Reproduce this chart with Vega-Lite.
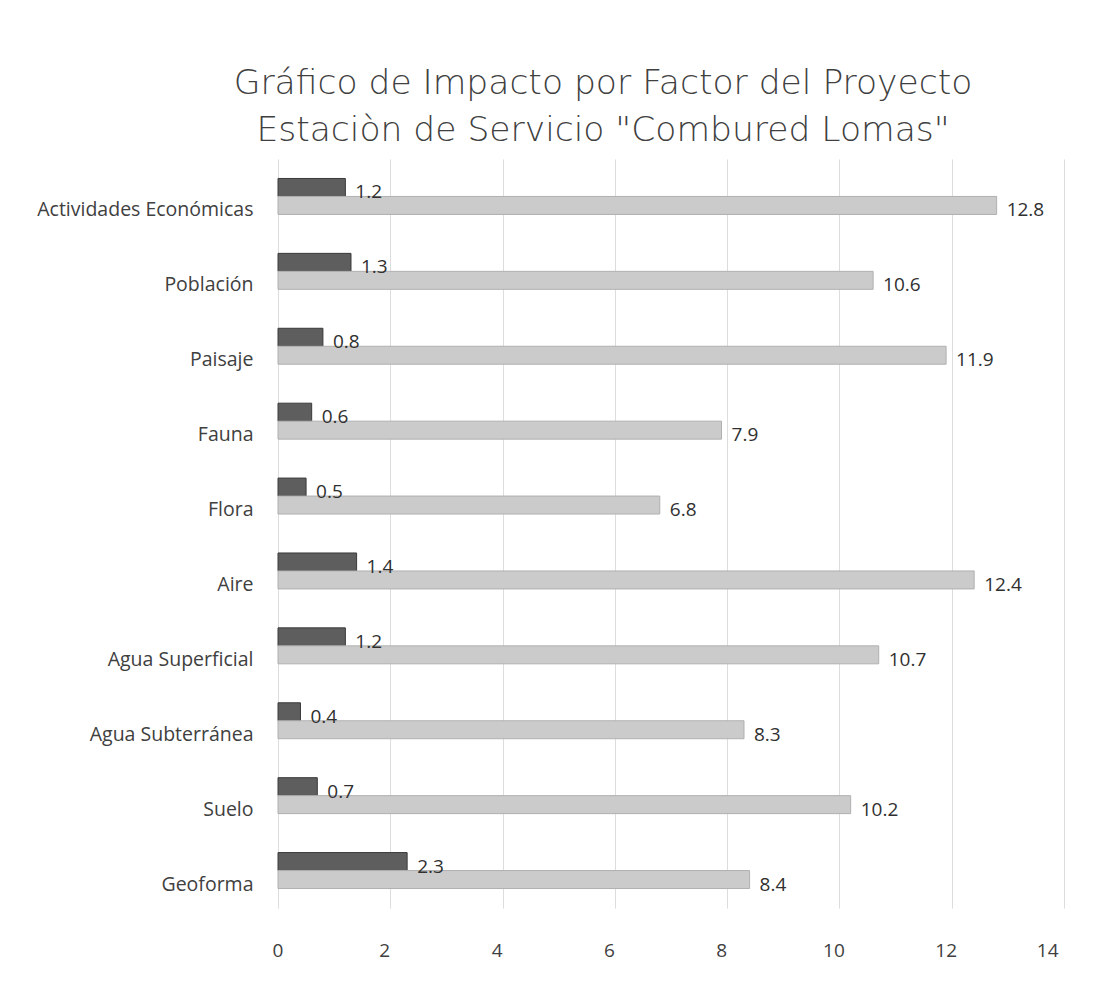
{
  "$schema": "https://vega.github.io/schema/vega-lite/v6.json",
  "autosize": "none",
  "width": 786,
  "height": 749,
  "padding": {"left": 278, "top": 159, "right": 49, "bottom": 82},
  "background": "white",
  "title": {
    "text": ["Gráfico de Impacto por Factor del Proyecto", "Estaciòn de Servicio \"Combured Lomas\""],
    "anchor": "middle",
    "frame": "group",
    "dx": -68,
    "offset": 11,
    "font": "DejaVu Sans",
    "fontSize": 34.5,
    "fontWeight": 200,
    "color": "#404040",
    "lineHeight": 47
  },
  "data": {
    "values": [
      {"factor": "Actividades Económicas", "serie": "A", "valor": 1.2},
      {"factor": "Actividades Económicas", "serie": "B", "valor": 12.8},
      {"factor": "Población", "serie": "A", "valor": 1.3},
      {"factor": "Población", "serie": "B", "valor": 10.6},
      {"factor": "Paisaje", "serie": "A", "valor": 0.8},
      {"factor": "Paisaje", "serie": "B", "valor": 11.9},
      {"factor": "Fauna", "serie": "A", "valor": 0.6},
      {"factor": "Fauna", "serie": "B", "valor": 7.9},
      {"factor": "Flora", "serie": "A", "valor": 0.5},
      {"factor": "Flora", "serie": "B", "valor": 6.8},
      {"factor": "Aire", "serie": "A", "valor": 1.4},
      {"factor": "Aire", "serie": "B", "valor": 12.4},
      {"factor": "Agua Superficial", "serie": "A", "valor": 1.2},
      {"factor": "Agua Superficial", "serie": "B", "valor": 10.7},
      {"factor": "Agua Subterránea", "serie": "A", "valor": 0.4},
      {"factor": "Agua Subterránea", "serie": "B", "valor": 8.3},
      {"factor": "Suelo", "serie": "A", "valor": 0.7},
      {"factor": "Suelo", "serie": "B", "valor": 10.2},
      {"factor": "Geoforma", "serie": "A", "valor": 2.3},
      {"factor": "Geoforma", "serie": "B", "valor": 8.4}
    ]
  },
  "encoding": {
    "y": {
      "field": "factor",
      "type": "nominal",
      "sort": null,
      "title": null,
      "scale": {"paddingInner": 0.52, "paddingOuter": 0.26},
      "axis": {
        "domain": false,
        "ticks": false,
        "grid": false,
        "labelFont": "Open Sans",
        "labelFontSize": 19.5,
        "labelColor": "#404040",
        "labelPadding": 25,
        "labelOffset": 14,
        "labelLimit": 300
      }
    },
    "yOffset": {"field": "serie", "type": "nominal", "sort": ["A", "B"], "scale": {"paddingInner": 0}},
    "x": {
      "field": "valor",
      "type": "quantitative",
      "title": null,
      "scale": {"domain": [0, 14], "nice": false},
      "axis": {
        "values": [0, 2, 4, 6, 8, 10, 12, 14],
        "domain": false,
        "ticks": false,
        "grid": true,
        "gridColor": "#dddddd",
        "gridWidth": 1,
        "labelFont": "Open Sans",
        "labelFontSize": 19,
        "labelColor": "#404040",
        "labelPadding": 33,
        "labelOffset": -6
      }
    }
  },
  "layer": [
    {
      "mark": {"type": "bar", "strokeWidth": 1},
      "encoding": {
        "color": {
          "field": "serie",
          "type": "nominal",
          "scale": {"domain": ["A", "B"], "range": ["#5e5e5e", "#cbcbcb"]},
          "legend": null
        },
        "stroke": {
          "field": "serie",
          "type": "nominal",
          "scale": {"domain": ["A", "B"], "range": ["#3a3a3a", "#b0b0b0"]},
          "legend": null
        }
      }
    },
    {
      "mark": {"type": "text", "align": "left", "baseline": "middle", "dx": 10, "dy": 5, "font": "Open Sans", "fontSize": 19, "color": "#303030"},
      "encoding": {
        "text": {"field": "valor", "type": "quantitative", "format": ".1f"}
      }
    }
  ],
  "config": {"view": {"stroke": null}}
}
